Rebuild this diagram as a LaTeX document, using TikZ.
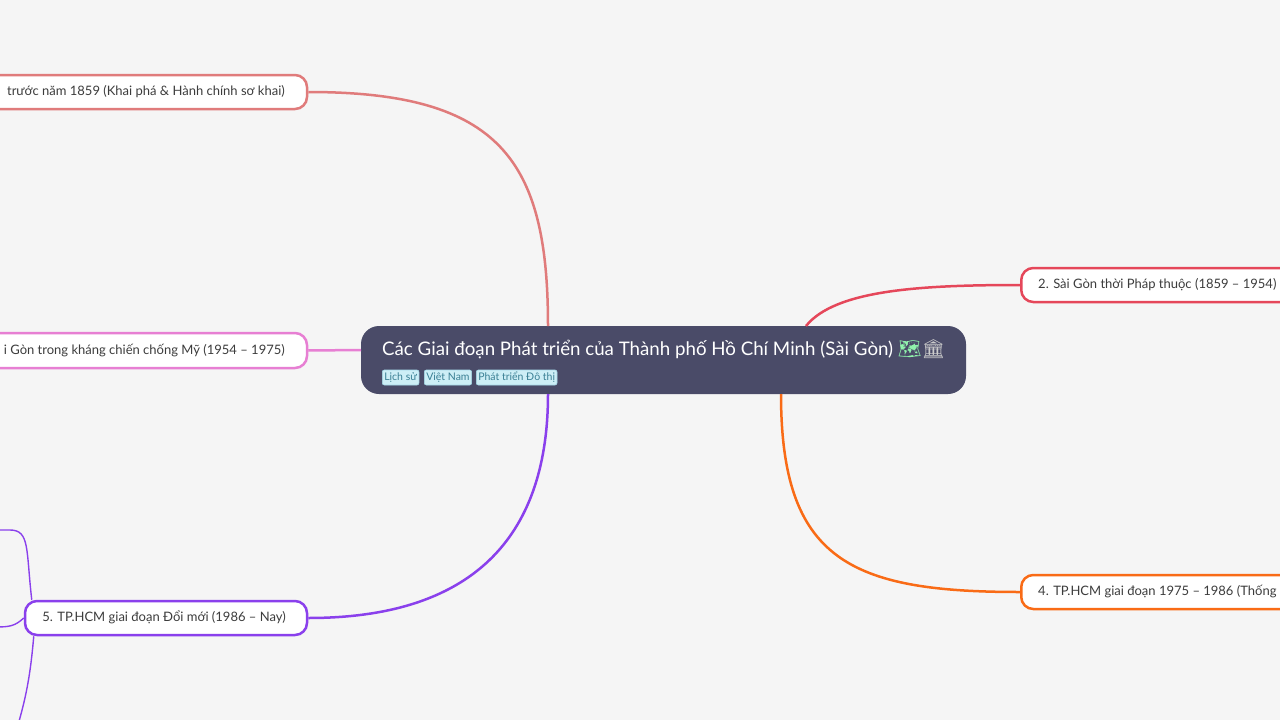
\documentclass[tikz,border=0pt]{standalone}
\usepackage{fontspec}
\setmainfont{Lato}
\newfontfamily\emojifont{Noto Emoji}
\usetikzlibrary{calc}
\definecolor{bg}{HTML}{F5F5F5}
\definecolor{central}{HTML}{4A4B68}
\definecolor{cone}{HTML}{E07B7B}
\definecolor{ctwo}{HTML}{E5475A}
\definecolor{cthree}{HTML}{E77FD3}
\definecolor{cfour}{HTML}{F96B16}
\definecolor{cfive}{HTML}{8A40EC}
\definecolor{tagfill}{HTML}{CDEEF6}
\definecolor{tagtext}{HTML}{3A7F94}
\definecolor{tagline}{HTML}{A6DAE8}
\definecolor{nodetext}{HTML}{3C3C3C}
\tikzset{
  branchbox/.style={draw, line width=2.5pt, fill=white, rounded corners=12pt, minimum height=34pt, inner sep=0pt},
  branchtext/.style={text=nodetext, font=\fontsize{13}{15}\selectfont, inner sep=0pt},
  conn/.style={line width=2.5pt},
  subconn/.style={line width=1.4pt, cfive},
  tagbox/.style={fill=tagfill, draw=tagline, line width=0.6pt, rounded corners=2pt, text=tagtext, font=\fontsize{10.5}{12}\selectfont, inner xsep=2pt, inner ysep=0pt, minimum height=15pt, anchor=west}
}
\begin{document}
\begin{tikzpicture}[x=1pt,y=-1pt]
\useasboundingbox[fill=bg] (0,0) rectangle (1280,720);

% central node
\node[fill=central, rounded corners=18pt, minimum width=605pt, minimum height=68pt, inner sep=0pt] (center) at (663.5,360) {};
\node[anchor=base west, text=white, font=\fontsize{18.7}{22}\selectfont, inner sep=0pt] (title) at (382,355)
  {Các Giai đoạn Phát triển của Thành phố Hồ Chí Minh (Sài Gòn) {\emojifont\color{tagfill!70!green}🗺}{\emojifont\color{gray!40}🏛}};
\node[tagbox] (tag1) at (382,377.5) {Lịch sử};
\node[tagbox] (tag2) at (424,377.5) {Việt Nam};
\node[tagbox] (tag3) at (476,377.5) {Phát triển Đô thị};

% attachment points on the central node
\coordinate (a1) at (548,326);
\coordinate (a2) at (806,326);
\coordinate (a3) at (361,350);
\coordinate (a4) at (781,394);
\coordinate (a5) at (548,394);

% branch nodes
\node[branchbox, draw=cone, minimum width=380pt] (n1) at (117,92) {};
\node[branchtext, anchor=east] (t1) at (285,92) {trước năm 1859 (Khai phá \& Hành chính sơ khai)};

\node[branchbox, draw=cthree, minimum width=380pt, minimum height=35pt] (n3) at (117,350.5) {};
\node[branchtext, anchor=east] (t3) at (285,350.5) {i Gòn trong kháng chiến chống Mỹ (1954 – 1975)};

\node[branchbox, draw=cfive, minimum width=282pt] (n5) at (166,618) {};
\node[branchtext] (t5) at (164,617.5) {5. TP.HCM giai đoạn Đổi mới (1986 – Nay)};

\node[branchbox, draw=ctwo, minimum width=330pt, anchor=west] (n2) at (1020,285) {};
\node[branchtext, anchor=west] (t2) at (1038,285) {2. Sài Gòn thời Pháp thuộc (1859 – 1954)};

\node[branchbox, draw=cfour, minimum width=330pt, anchor=west] (n4) at (1020,592) {};
\node[branchtext, anchor=west] (t4) at (1038,592) {4. TP.HCM giai đoạn 1975 – 1986 (Thống n};

% connectors
\draw[conn, cone] (n1.east) .. controls (500,92) and (548,160) .. (a1);
\draw[conn, cthree] (n3.east) -- (a3);
\draw[conn, cfive] (a5) .. controls (548,530) and (480,618) .. (n5.east);
\draw[conn, ctwo] (a2) .. controls (835,290) and (920,285) .. (n2.west);
\draw[conn, cfour] (a4) .. controls (781,560) and (850,592) .. (n4.west);

% sub-branches of node 5
\coordinate (k1) at (-5,530);
\coordinate (k2) at (-5,627);
\coordinate (k3) at (18,725);
\draw[subconn] ($(n5.north west)+(8,0)$) .. controls (26,550) and (30,530) .. (10,530) -- (k1);
\draw[subconn] (n5.west) .. controls (15,626) and (10,627) .. (k2);
\draw[subconn] ($(n5.south west)+(10,0)$) .. controls (30,680) and (25,700) .. (k3);
\end{tikzpicture}
\end{document}
